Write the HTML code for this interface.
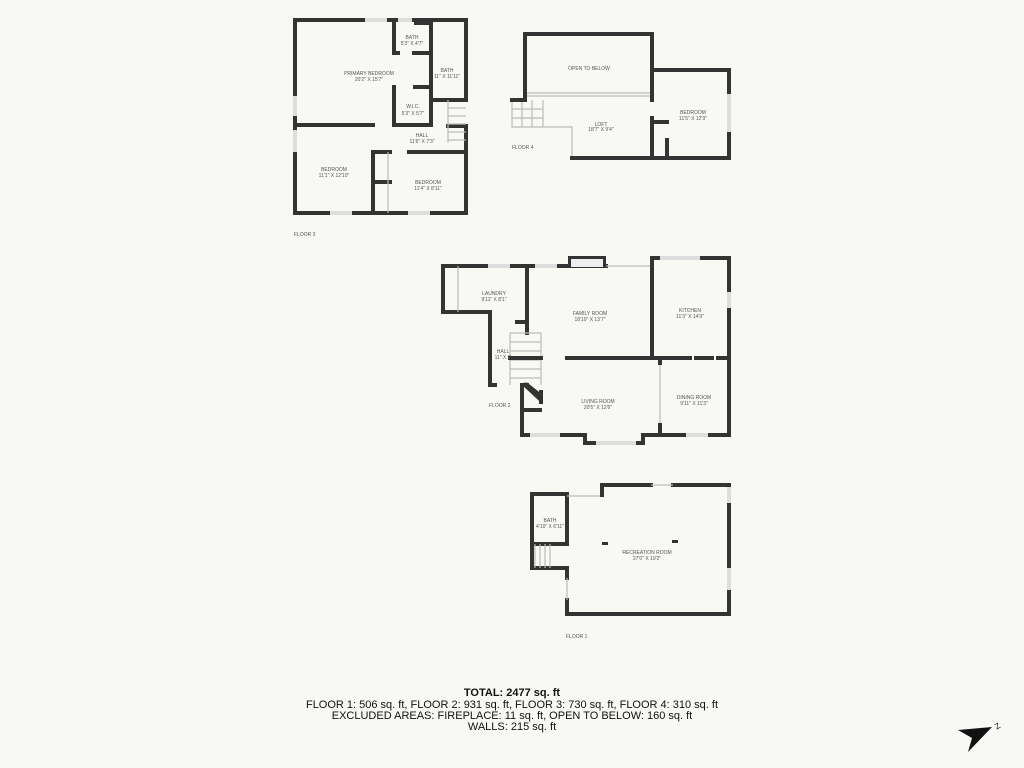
<!DOCTYPE html>
<html><head><meta charset="utf-8"><style>
html,body{margin:0;padding:0;background:#f8f8f4;}
svg{display:block}
.w{stroke:#333;stroke-width:4;fill:none;stroke-linecap:square}
.t{stroke:#bbb;stroke-width:1.2;fill:none}
.l{font-family:"Liberation Sans",sans-serif;font-size:5px;fill:#555;text-anchor:middle}
.f{font-family:"Liberation Sans",sans-serif;font-size:5px;fill:#555}
.b{font-family:"Liberation Sans","DejaVu Sans",sans-serif;font-size:11px;fill:#111;text-anchor:middle}
</style></head><body>
<svg width="1024" height="768" viewBox="0 0 1024 768">
<rect width="1024" height="768" fill="#f8f8f4"/>
<!-- FLOOR 3 -->
<g>
<path class="w" d="M295,20 H466 V100 M466,126 V213 H295 V20"/>
<rect x="365" y="18" width="22" height="4" fill="#ddd"/>
<rect x="398" y="18" width="14" height="4" fill="#ddd"/>
<rect x="414" y="19" width="16" height="6" fill="#333"/>
<rect x="293" y="96" width="4" height="20" fill="#ddd"/>
<rect x="293" y="130" width="4" height="22" fill="#ddd"/>
<rect x="330" y="211" width="22" height="4" fill="#ddd"/>
<rect x="408" y="211" width="22" height="4" fill="#ddd"/>
<path class="w" d="M394,20 V53 H398 M414,53 H431 M431,20 V125 H394 V87 M415,87 H431"/>
<path class="w" d="M431,100 H466 M295,125 H373 M373,152 V213 M373,152 H390 M409,152 H466 M373,182 H390 M448,126 H466"/>
<path class="t" d="M448,100 V143 M448,108 H466 M448,116 H466 M448,124 H466 M448,132 H466 M448,140 H466 M388,152 V213"/>
<text class="l" x="369" y="75">PRIMARY BEDROOM</text><text class="l" x="369" y="81">20'2" X 15'7"</text>
<text class="l" x="412" y="39">BATH</text><text class="l" x="412" y="45">5'3" X 4'7"</text>
<text class="l" x="447" y="72">BATH</text><text class="l" x="447" y="78">11" X 11'11"</text>
<text class="l" x="413" y="108">W.I.C.</text><text class="l" x="413" y="115">5'3" X 5'7"</text>
<text class="l" x="422" y="137">HALL</text><text class="l" x="422" y="143">11'6" X 7'3"</text>
<text class="l" x="334" y="171">BEDROOM</text><text class="l" x="334" y="177">11'1" X 12'10"</text>
<text class="l" x="428" y="184">BEDROOM</text><text class="l" x="428" y="190">11'4" X 8'11"</text>
<text class="f" x="294" y="236">FLOOR 3</text>
</g>
<!-- FLOOR 4 -->
<g>
<path class="t" d="M525,93 H652 M525,96 H652 M512,100 V127 H572 V158 M512,109 H543 M512,118 H543 M522,100 V127 M532,100 V127 M543,100 V127"/>
<path class="w" d="M512,100 H525 V34 H652 V100 M652,118 V158 M652,70 H729 V158 H572 M652,122 H667 M667,140 V158"/>
<rect x="727" y="94" width="4" height="38" fill="#ddd"/>
<text class="l" x="589" y="70">OPEN TO BELOW</text>
<text class="l" x="601" y="126">LOFT</text><text class="l" x="601" y="131">18'7" X 9'4"</text>
<text class="l" x="693" y="114">BEDROOM</text><text class="l" x="693" y="120">11'5" X 12'9"</text>
<text class="f" x="512" y="149">FLOOR 4</text>
</g>
<!-- FLOOR 2 -->
<g>
<path class="w" d="M443,266 H568 M606,266 V266 M443,266 V312 H490 V385 M527,266 V333 M517,322 H527"/>
<rect x="568" y="256" width="38" height="12" fill="#333"/>
<rect x="571" y="259" width="32" height="8" fill="#eee"/>
<path class="t" d="M606,266 H652 M510,333 H541 V385 M510,333 V385 M510,342 H541 M510,351 H541 M510,360 H541 M510,369 H541 M510,378 H541 M458,266 V312 M660,360 V435"/>
<path class="w" d="M652,258 V270 M652,258 H729 V435 H643 V443 H585 V435 H522 V385 H527 M541,392 L541,400 L525,385 M522,410 H540 M652,270 V358 M567,358 H690 M696,358 H712 M718,358 H729 M510,358 H541 M660,360 V363 M660,425 V435 M490,385 H495 M430,0"/>
<path class="w" d="M527,385 L541,396 V402"/>
<rect x="488" y="264" width="22" height="4" fill="#ddd"/>
<rect x="535" y="264" width="22" height="4" fill="#ddd"/>
<rect x="660" y="256" width="40" height="4" fill="#ddd"/>
<rect x="727" y="292" width="4" height="16" fill="#ddd"/>
<rect x="596" y="441" width="40" height="4" fill="#ddd"/>
<rect x="686" y="433" width="22" height="4" fill="#ddd"/>
<rect x="530" y="433" width="30" height="4" fill="#ddd"/>
<text class="l" x="494" y="295">LAUNDRY</text><text class="l" x="494" y="301">9'11" X 8'1"</text>
<text class="l" x="590" y="315">FAMILY ROOM</text><text class="l" x="590" y="321">18'10" X 13'7"</text>
<text class="l" x="690" y="312">KITCHEN</text><text class="l" x="690" y="318">11'3" X 14'9"</text>
<text class="l" x="503" y="353">HALL</text><text class="l" x="503" y="359">11" X 9'</text>
<text class="l" x="598" y="403">LIVING ROOM</text><text class="l" x="598" y="409">20'5" X 12'6"</text>
<text class="l" x="694" y="399">DINING ROOM</text><text class="l" x="694" y="405">9'11" X 11'3"</text>
<text class="f" x="489" y="407">FLOOR 2</text>
</g>
<!-- FLOOR 1 -->
<g>
<path class="w" d="M602,495 V485 H651 M673,485 H729 V614 H567 V600 M567,578 V568 H532 V544 H567 V494 H532 V544 M729,485 V500"/>
<rect x="727" y="487" width="4" height="16" fill="#ddd"/>
<rect x="727" y="568" width="4" height="22" fill="#ddd"/>
<path class="t" d="M567,496 H600 M567,578 V600 M535,544 V568 M540,544 V568 M545,544 V568 M550,544 V568 M651,485 H673"/>
<rect x="602" y="542" width="6" height="3" fill="#333"/><rect x="672" y="540" width="6" height="3" fill="#333"/>
<text class="l" x="550" y="522">BATH</text><text class="l" x="550" y="528">4'10" X 6'11"</text>
<text class="l" x="647" y="554">RECREATION ROOM</text><text class="l" x="647" y="560">27'0" X 19'2"</text>
<text class="f" x="566" y="638">FLOOR 1</text>
</g>
<!-- summary -->
<text class="b" x="512" y="696" font-weight="bold">TOTAL: 2477 sq. ft</text>
<text class="b" x="512" y="708">FLOOR 1: 506 sq. ft, FLOOR 2: 931 sq. ft, FLOOR 3: 730 sq. ft, FLOOR 4: 310 sq. ft</text>
<text class="b" x="512" y="719">EXCLUDED AREAS: FIREPLACE: 11 sq. ft, OPEN TO BELOW: 160 sq. ft</text>
<text class="b" x="512" y="730">WALLS: 215 sq. ft</text>
<polygon points="958,730 992,727 968,752 972,738" fill="#111"/>
<text x="995" y="729" font-family="Liberation Sans,sans-serif" font-size="8" fill="#111" transform="rotate(-30 997 726)">Z</text>
</svg>
</body></html>
